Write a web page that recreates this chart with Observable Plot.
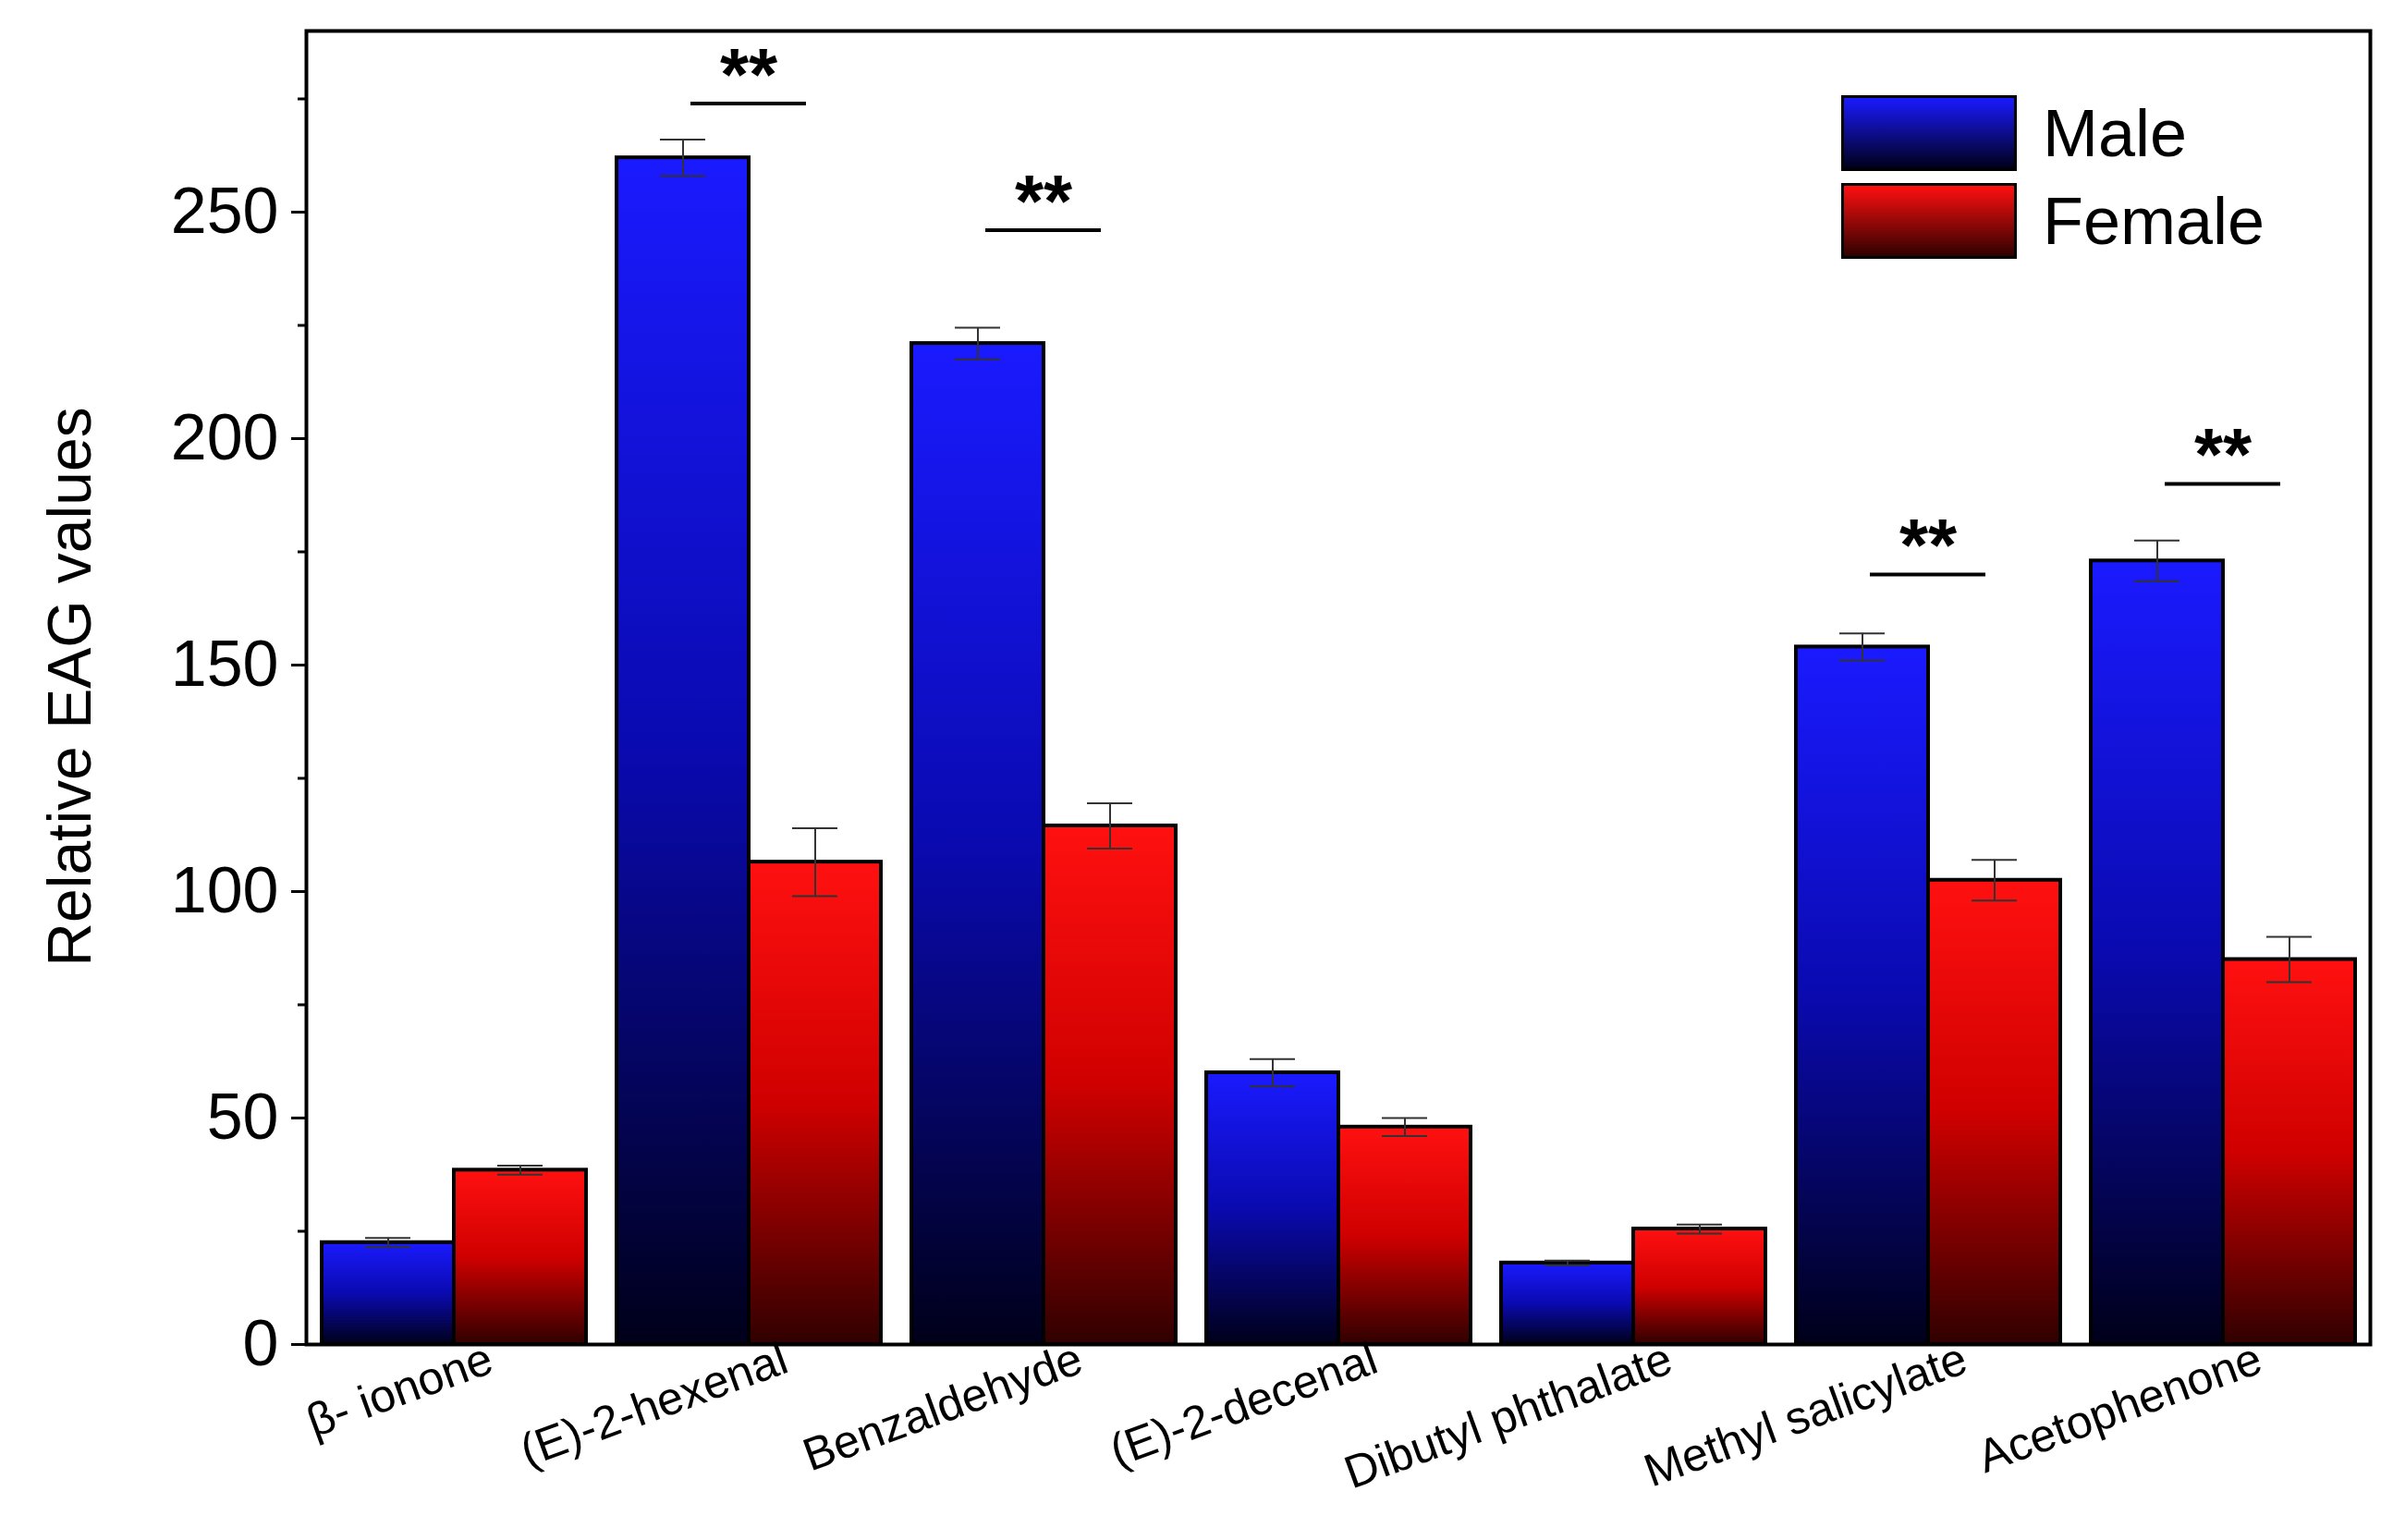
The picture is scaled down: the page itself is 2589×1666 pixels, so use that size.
<!DOCTYPE html>
<html><head><meta charset="utf-8">
<script src="https://cdn.jsdelivr.net/npm/d3@7"></script>
<script src="https://cdn.jsdelivr.net/npm/@observablehq/plot@0.6"></script>
<style>body{margin:0;background:#fff;font-family:"Liberation Sans",Arial,sans-serif}#wrap{position:relative;width:2589px;height:1666px}
.lg{position:absolute;left:1992px;width:190px;height:82px;border:3px solid #000;box-sizing:border-box}
.lt{position:absolute;left:2210px;font-size:72px;line-height:82px}
.yl{position:absolute;left:75px;top:743px;font-size:66px;white-space:nowrap;transform:translate(-50%,-50%) rotate(-90deg)}</style>
</head><body><div id="wrap"></div>
<script>
const compounds = ["β- ionone","(E)-2-hexenal","Benzaldehyde","(E)-2-decenal","Dibutyl phthalate","Methyl salicylate","Acetophenone"];
const sexes = ["Male","Female"];
const maleValues = [22.5,262,221,60,18,154,173];
const maleErr = [1,4,3.5,3,0.5,3,4.5];
const femaleValues = [38.5,106.5,114.5,48,25.5,102.5,85];
const femaleErr = [1,7.5,5,2,1,4.5,5];
const sigCompounds = ["(E)-2-hexenal","Benzaldehyde","Methyl salicylate","Acetophenone"];
const sigLevels = [274,246,170,190];

const rows = [];
compounds.forEach((c,i)=>{
  rows.push({c,s:"Male",v:maleValues[i],e:maleErr[i]});
  rows.push({c,s:"Female",v:femaleValues[i],e:femaleErr[i]});
});
const sig = sigCompounds.map((c,i)=>({c,y:sigLevels[i]}));

const defs = () => {
  const ns="http://www.w3.org/2000/svg";
  const d=document.createElementNS(ns,"defs");
  d.innerHTML=`<linearGradient id="gm" x1="0" y1="0" x2="0" y2="1"><stop offset="0" stop-color="#1a1aff"/><stop offset="0.5" stop-color="#0a0ab0"/><stop offset="1" stop-color="#00001a"/></linearGradient>
  <linearGradient id="gf" x1="0" y1="0" x2="0" y2="1"><stop offset="0" stop-color="#ff1010"/><stop offset="0.5" stop-color="#d00000"/><stop offset="1" stop-color="#300000"/></linearGradient>`;
  return d;
};

const chart = Plot.plot({
  width:2589, height:1666,
  marginLeft:329, marginRight:24, marginTop:33, marginBottom:212,
  style:{fontFamily:"Liberation Sans, Arial, sans-serif", fontSize:"48px", color:"#000"},
  fx:{domain:compounds, padding:0, label:null, axis:null},
  x:{domain:sexes, paddingInner:0, paddingOuter:0.11, axis:null},
  y:{domain:[0,290], label:null},
  marks:[
    defs,
    Plot.frame({stroke:"#000", strokeWidth:4, facet:"super"}),
    Plot.barY(rows.filter(d=>d.s==="Male"),{fx:"c",x:"s",y:"v",fill:"url(#gm)",stroke:"#000",strokeWidth:4}),
    Plot.barY(rows.filter(d=>d.s==="Female"),{fx:"c",x:"s",y:"v",fill:"url(#gf)",stroke:"#000",strokeWidth:4}),
    Plot.ruleX(rows,{fx:"c",x:"s",y1:d=>d.v-d.e,y2:d=>d.v+d.e,stroke:"#333",strokeWidth:2}),
    Plot.tickY(rows,{fx:"c",x:"s",y:d=>d.v+d.e,insetLeft:47,insetRight:47,stroke:"#333",strokeWidth:2}),
    Plot.tickY(rows,{fx:"c",x:"s",y:d=>d.v-d.e,insetLeft:47,insetRight:47,stroke:"#333",strokeWidth:2}),
    Plot.ruleY(sig,{fx:"c",y:"y",insetLeft:97,insetRight:97,strokeWidth:4}),
    Plot.text(sig,{fx:"c",y:"y",text:()=>"**",dy:-30,fontSize:80,fontWeight:"bold"}),
    Plot.axisY({ticks:d3.range(0,251,50),tickSize:16,tickPadding:14,fontSize:70,strokeWidth:3}),
    Plot.axisY({ticks:d3.range(25,290,50),tickSize:9,text:null,strokeWidth:3}),
    Plot.axisFx({anchor:"bottom",tickSize:0,tickPadding:14,fontSize:50,tickRotate:-20,dx:40})
  ]
});
const wrap=document.getElementById("wrap");
wrap.appendChild(chart);
wrap.insertAdjacentHTML("beforeend",`<div class="lg" style="top:103px;background:linear-gradient(#1a1aff,#00001a)"></div><div class="lt" style="top:103px">Male</div>
<div class="lg" style="top:198px;background:linear-gradient(#ff1010,#300000)"></div><div class="lt" style="top:198px">Female</div>
<div class="yl">Relative EAG values</div>`);
</script></body></html>
